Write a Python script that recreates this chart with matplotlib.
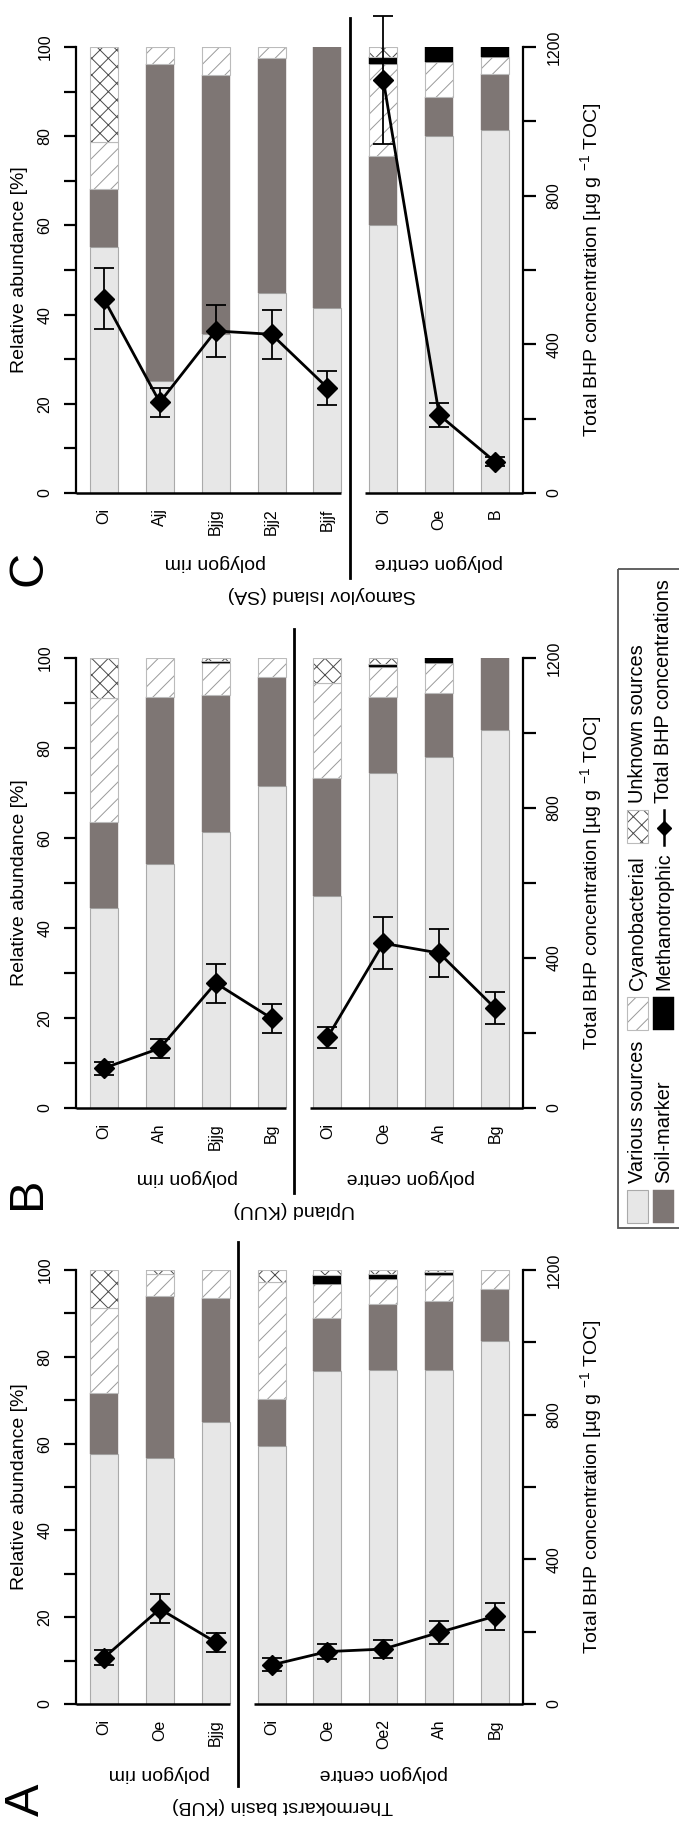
import numpy as np
import matplotlib.pyplot as plt
from matplotlib.patches import Rectangle

plt.rcParams['font.family'] = ['Liberation Sans', 'DejaVu Sans']
plt.rcParams['mathtext.fontset'] = 'custom'
plt.rcParams['mathtext.rm'] = 'Liberation Sans'
plt.rcParams['hatch.linewidth'] = 0.7

# --- Thermokarst basin (KUB) ---
kub_horizons = ['Oi', 'Oe', 'Bjjg', 'Oi', 'Oe', 'Oe2', 'Ah', 'Bg']
kub_n_rim = 3
kub_various = [57.6, 56.6, 64.9, 59.4, 76.7, 77.0, 77.0, 83.7]
kub_soil = [14.1, 37.4, 28.7, 10.8, 12.3, 15.3, 15.9, 11.9]
kub_cyano = [19.5, 5.0, 6.4, 27.0, 7.9, 5.6, 6.0, 4.4]
kub_methano = [0, 0, 0, 0, 1.9, 1.1, 0.6, 0]
kub_unknown = [8.8, 1.0, 0, 2.8, 1.2, 1.0, 0.5, 0]
kub_bhp = [128, 263, 171, 108, 145, 152, 198, 243]
kub_bhp_err = [21, 40, 26, 18, 20, 24, 31, 37]

# --- Upland (KUU) ---
kuu_horizons = ['Oi', 'Ah', 'Bjjg', 'Bg', 'Oi', 'Oe', 'Ah', 'Bg']
kuu_n_rim = 4
kuu_various = [44.5, 54.2, 61.4, 71.6, 47.0, 74.4, 77.9, 83.9]
kuu_soil = [19.1, 37.1, 30.3, 24.2, 26.3, 17.0, 14.4, 16.1]
kuu_cyano = [27.4, 8.7, 7.2, 4.2, 21.1, 6.7, 6.5, 0]
kuu_methano = [0, 0, 0.4, 0, 0, 0.6, 1.2, 0]
kuu_unknown = [9.0, 0, 0.7, 0, 5.6, 1.3, 0, 0]
kuu_bhp = [106, 159, 333, 239, 188, 439, 413, 266]
kuu_bhp_err = [17, 26, 52, 39, 29, 69, 64, 42]

# --- Samoylov Island (SA) ---
sa_horizons = ['Oi', 'Ajj', 'Bjjg', 'Bjj2', 'Bjjf', 'Oi', 'Oe', 'B']
sa_n_rim = 5
sa_various = [55.2, 25.1, 35.6, 44.8, 41.4, 60.1, 80.1, 81.4]
sa_soil = [12.9, 71.1, 58.0, 52.8, 58.6, 15.5, 8.6, 12.6]
sa_cyano = [10.5, 3.8, 6.4, 2.4, 0, 20.6, 7.9, 3.7]
sa_methano = [0, 0, 0, 0, 0, 1.5, 3.4, 2.3]
sa_unknown = [21.4, 0, 0, 0, 0, 2.3, 0, 0]
sa_bhp = [522, 244, 436, 427, 283, 1111, 210, 84]
sa_bhp_err = [82, 39, 69, 66, 45, 173, 32, 12]

groups = ['Various sources', 'Soil-marker', 'Cyanobacterial', 'Methanotrophic', 'Unknown sources']
# fill style, then outline colour (None = no outline)
styles = [
    dict(facecolor='#e7e7e7', edgecolor='#e7e7e7', linewidth=0),
    dict(facecolor='#7e7674', edgecolor='#7e7674', linewidth=0.3),
    dict(facecolor='white', edgecolor='#9a9a9a', hatch='//', linewidth=0),
    dict(facecolor='black', edgecolor='black', linewidth=0.3),
    dict(facecolor='white', edgecolor='#4a4a4a', hatch='xx', linewidth=0),
]
outlines = ['#aaaaaa', None, '#bbbbbb', None, '#bbbbbb']

fig = plt.figure(figsize=(6.79, 18.41), dpi=100)


def draw_panel(rect, horizons, n_rim, parts, bhp, bhp_err, site, site_x):
    ax = fig.add_axes(rect)
    n = len(horizons)
    x = np.arange(n)
    bottom = np.zeros(n)
    for vals, st, oc in zip(parts, styles, outlines):
        vals = np.array(vals, dtype=float)
        m = vals > 0
        ax.bar(x[m], vals[m], 0.5, bottom=bottom[m], **st)
        if oc:
            ax.bar(x[m], vals[m], 0.5, bottom=bottom[m], fill=False,
                   edgecolor=oc, linewidth=0.8)
        bottom += vals
    ax.set_xlim(-0.5, n - 0.5)
    ax.set_ylim(0, 100)
    for s in ('top', 'right', 'bottom'):
        ax.spines[s].set_visible(False)
    ax.spines['left'].set_linewidth(1.6)
    ax.spines['left'].set_bounds(0, 100)
    ax.set_yticks(range(0, 101, 20))
    ax.set_yticks(range(10, 100, 20), minor=True)
    ax.tick_params(axis='y', which='both', length=9, width=1.6, pad=8,
                   labelsize=11.5, labelrotation=90)
    for lb in ax.get_yticklabels():
        lb.set_va('center')
    ax.set_xticks(x)
    ax.set_xticklabels(horizons, rotation=90)
    ax.tick_params(axis='x', length=0, pad=11, labelsize=11.5)
    ax.set_ylabel('Relative abundance [%]', fontsize=14, labelpad=7)

    # baseline in two pieces, separator between rim and centre
    ax.plot([-0.5, n_rim - 1 + 0.25], [0, 0], color='black', lw=1.8,
            clip_on=False, solid_capstyle='butt')
    ax.plot([n_rim - 0.32, n - 0.5], [0, 0], color='black', lw=1.8,
            clip_on=False, solid_capstyle='butt')
    ax.plot([n_rim - 0.6] * 2, [-0.19, 1.065], color='black', lw=2,
            transform=ax.get_xaxis_transform(), clip_on=False)

    tr = ax.get_xaxis_transform()
    ax.annotate('polygon rim', xy=((n_rim - 1) / 2, 0), xycoords=tr,
                xytext=(0, -50), textcoords='offset points', rotation=180,
                ha='center', va='center', fontsize=14)
    ax.annotate('polygon centre', xy=((n_rim + n - 1) / 2, 0), xycoords=tr,
                xytext=(0, -50), textcoords='offset points', rotation=180,
                ha='center', va='center', fontsize=14)
    ax.annotate(site, xy=(site_x, 0), xycoords=tr,
                xytext=(0, -73), textcoords='offset points', rotation=180,
                ha='center', va='center', fontsize=14)

    ax2 = ax.twinx()
    ax2.set_ylim(0, 1200)
    for s in ('top', 'left', 'bottom'):
        ax2.spines[s].set_visible(False)
    ax2.spines['right'].set_linewidth(1.6)
    ax2.spines['right'].set_bounds(0, 1200)
    ax2.set_yticks([0, 400, 800, 1200])
    ax2.set_yticks([200, 600, 1000], minor=True)
    ax2.tick_params(axis='y', which='both', length=9, width=1.6, pad=8,
                    labelsize=11.5, labelrotation=90)
    for lb in ax2.get_yticklabels():
        lb.set_va('center')
    ax2.set_ylabel('Total BHP concentration [µg g $^{-1}$ TOC]', fontsize=14,
                   labelpad=12)

    bhp = np.array(bhp, dtype=float)
    err = np.array(bhp_err, dtype=float)
    for sl in (slice(0, n_rim), slice(n_rim, n)):
        eb = ax2.errorbar(x[sl], bhp[sl], yerr=err[sl], color='black', lw=2,
                          marker='D', ms=10, capsize=7, elinewidth=1.3,
                          capthick=1.3)
        eb.lines[0].set_clip_on(False)
        for a in list(eb.lines[1]) + list(eb.lines[2]):
            a.set_clip_on(False)
    return ax


left, width = 0.1119, 0.6584
draw_panel([left, 0.7322, width, 0.2423], sa_horizons, sa_n_rim,
           [sa_various, sa_soil, sa_cyano, sa_methano, sa_unknown],
           sa_bhp, sa_bhp_err, 'Samoylov Island (SA)', 3.9)
draw_panel([left, 0.3982, width, 0.2444], kuu_horizons, kuu_n_rim,
           [kuu_various, kuu_soil, kuu_cyano, kuu_methano, kuu_unknown],
           kuu_bhp, kuu_bhp_err, 'Upland (KUU)', 3.4)
draw_panel([left, 0.0744, width, 0.2357], kub_horizons, kub_n_rim,
           [kub_various, kub_soil, kub_cyano, kub_methano, kub_unknown],
           kub_bhp, kub_bhp_err, 'Thermokarst basin (KUB)', 3.2)

# overlay in pixel units for panel letters and the legend
ov = fig.add_axes([0, 0, 1, 1], zorder=10)
ov.set_xlim(0, 679)
ov.set_ylim(1841, 0)
ov.axis('off')
for letter, (lx, ly) in zip('CBA', [(29, 568), (28, 1193), (26, 1800)]):
    ov.text(lx, ly, letter, rotation=90, ha='center', va='center', fontsize=35)

ov.add_patch(Rectangle((618, 569), 100, 659, fill=False, edgecolor='#555555',
                       lw=1.3, clip_on=False))
leg_x = [637.5, 663.5, 637.5, 663.5, 637.5]
leg_y = [1223, 1223, 1030, 1030, 843]
for name, st, oc, cx, yb in zip(groups, styles, outlines, leg_x, leg_y):
    ov.add_patch(Rectangle((cx - 10.5, yb - 33), 21, 33, **st))
    if oc:
        ov.add_patch(Rectangle((cx - 10.5, yb - 33), 21, 33, fill=False,
                               edgecolor=oc, lw=0.8))
    ov.text(cx, yb - 40, name, rotation=90, ha='center', va='bottom',
            fontsize=14.4)
ov.plot([663.5, 663.5], [810, 845], color='black', lw=1.8)
ov.plot([663.5], [827.5], marker='D', ms=7, color='black')
ov.text(663.5, 803, 'Total BHP concentrations', rotation=90, ha='center',
        va='bottom', fontsize=14.4)

fig.savefig('out.png', dpi=100)
